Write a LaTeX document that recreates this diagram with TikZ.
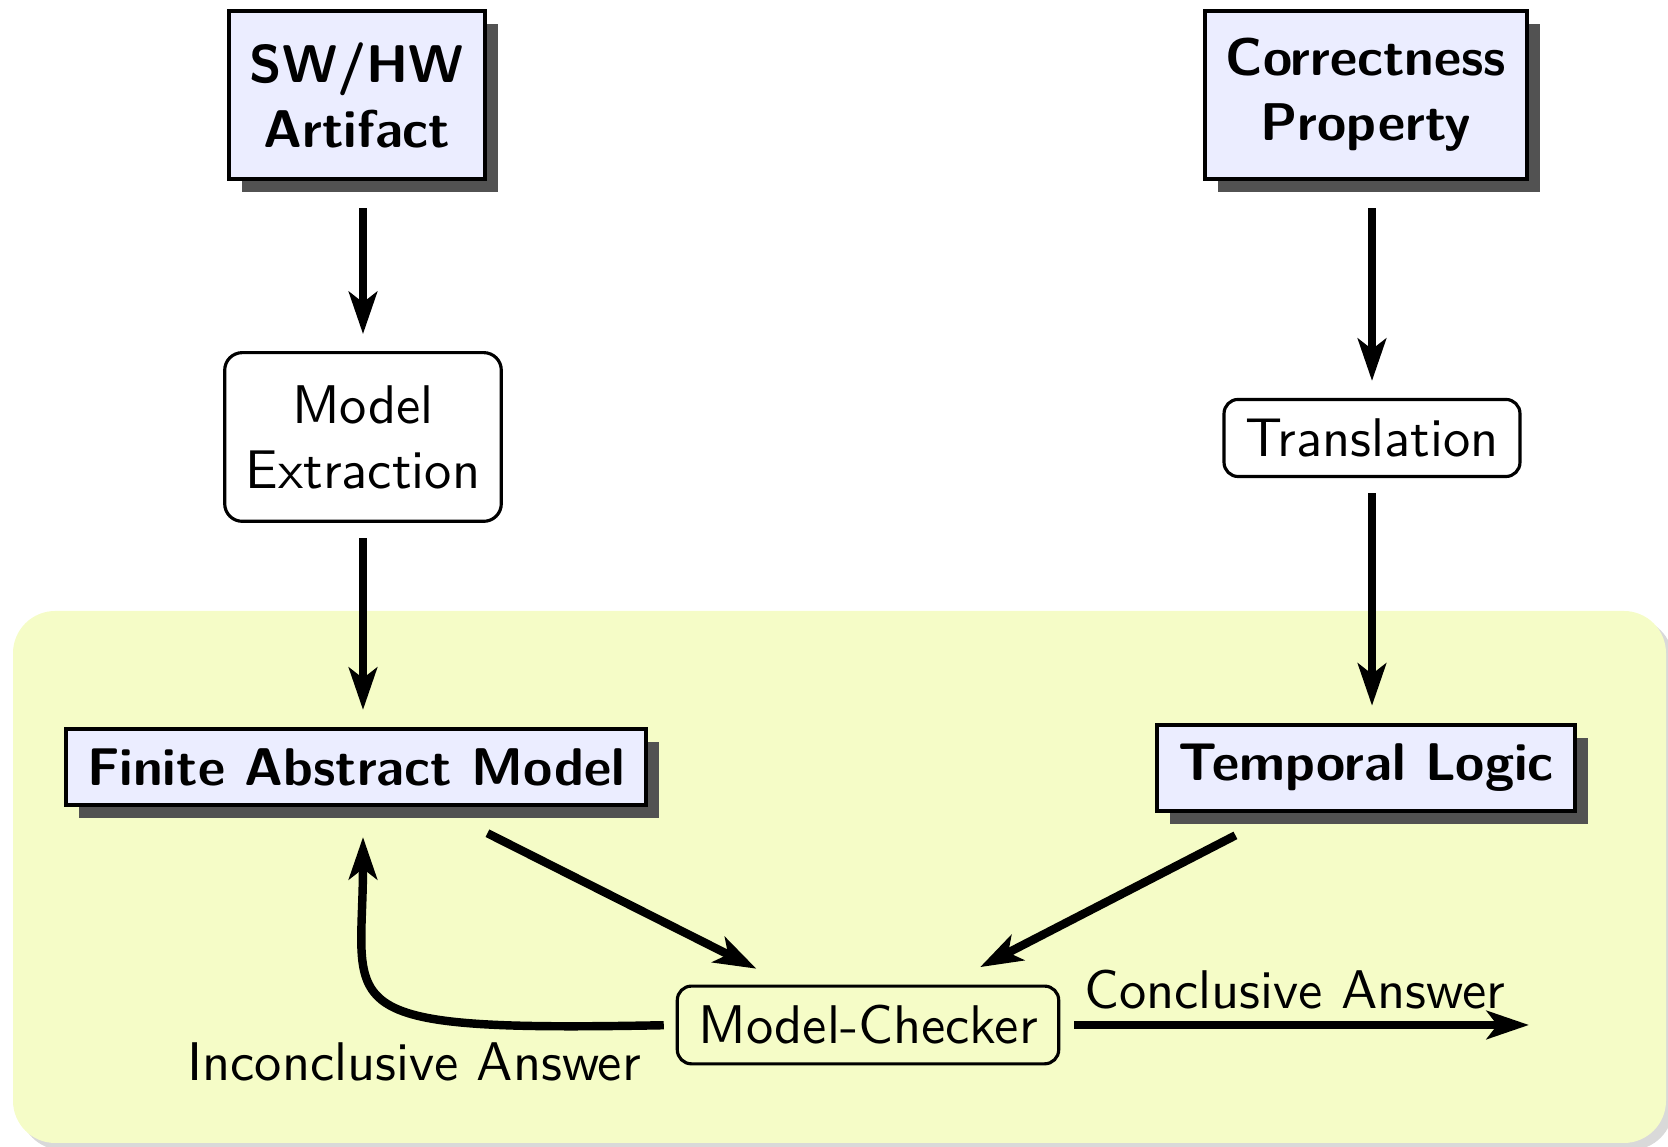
\documentclass[tikz,border=0pt]{standalone}
\usepackage[]{color}
\usepackage{tikz}
\usetikzlibrary{arrows.meta, shadows}
\definecolor{bgyellow}{RGB}{245,252,199}
\definecolor{boxblue}{RGB}{235,237,255}
\definecolor{boxshade}{RGB}{82,82,82}
% sans at the 10pt design size, scaled up
\DeclareFontFamily{TU}{tenss}{}
\DeclareFontShape{TU}{tenss}{m}{n}{<-> "[lmsans10-regular]"}{}
\DeclareFontShape{TU}{tenss}{bx}{n}{<-> "[lmsans10-bold]"}{}
\newcommand{\stepfont}{\fontfamily{tenss}\fontseries{m}\fontsize{15.5}{18.5}\selectfont}
\newcommand{\boxfont}{\fontfamily{tenss}\fontseries{bx}\fontsize{15.1}{18.5}\selectfont}

\begin{document}
\begin{tikzpicture}[
  every node/.style = {font = \stepfont},
  mainbox/.style = {draw, line width = 1.2pt, fill = boxblue, align = center,
    font = \boxfont, inner xsep = 6pt, inner ysep = 5.5pt,
    general shadow = {fill = boxshade, shadow xshift = 3.7pt, shadow yshift = -3.7pt}},
  stepbox/.style = {draw, line width = 0.9pt, rounded corners = 4pt, align = center,
    inner xsep = 6pt, inner ysep = 5.5pt},
  flow/.style = {-{Stealth[length = 12pt, width = 8pt, inset = 3pt]},
    line width = 2.4pt, shorten <= 4.3pt, shorten >= 4.8pt}
]
\useasboundingbox (0, 0) rectangle (16.68, 11.47);
%\draw[very thin, color = gray](0, 0) grid (16, 11);
\fill [bgyellow, rounded corners = 12pt,
  drop shadow = {opacity = 0.3, shadow xshift = 2pt, shadow yshift = -2pt}]
  (0.13, 0.04) rectangle (16.66, 5.36);

% inputs
\node (art) at (3.57, 10.52) [mainbox, minimum height = 48pt] {SW/HW\\Artifact};
\node (prop) at (13.66, 10.52) [mainbox, minimum height = 48pt] {Correctness\\Property};

% intermediate steps
\node (extr) at (3.63, 7.10) [stepbox, minimum height = 48pt, rounded corners = 5pt] {Model\\Extraction};
\node (trans) at (13.72, 7.09) [stepbox] {Translation};

% inside the tool
\node (fam) at (3.56, 3.80) [mainbox] {Finite Abstract Model};
\node (tl) at (13.66, 3.79) [mainbox] {Temporal Logic};
\node (mc) at (8.68, 1.22) [stepbox] {Model-Checker};
\coordinate (done) at (15.29, 1.22);

\draw[flow, shorten <= 7.7pt] (art.south -| extr) -- (extr.north);
\draw[flow] (extr) -- (extr |- fam.north);
\draw[flow, shorten <= 7.7pt] (prop.south -| trans) -- (trans);
\draw[flow] (trans) -- (trans |- tl.north);
\draw[flow, shorten <= 16.5pt, shorten >= 10pt] (fam) -- (mc);
\draw[flow, shorten <= 13.7pt, shorten >= 10.8pt] (tl) -- (mc);
\draw[flow, shorten <= 4pt, shorten >= 0pt] (mc) -- (done)
  node[midway, above] {Conclusive Answer};
\draw[flow, shorten <= 3.4pt, shorten >= 8.5pt] (mc.west)
  .. controls (3.20, 1.15) and (3.63, 1.37) .. (fam.south -| extr);
\node (inc) at (4.14, 0.85) {Inconclusive Answer};
\end{tikzpicture}
\end{document}
